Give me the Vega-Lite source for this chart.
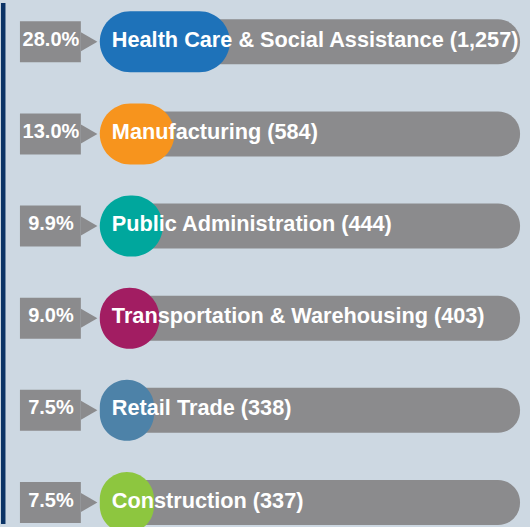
{
  "$schema": "https://vega.github.io/schema/vega-lite/v6.json",
  "width": 530,
  "height": 527,
  "autosize": {"type": "fit", "contains": "padding"},
  "padding": 0,
  "background": "#cdd8e2",
  "config": {"view": {"stroke": null}},
  "data": {
    "values": [
      {"industry": "Health Care & Social Assistance", "count": 1257, "share": 0.28, "label": "Health Care & Social Assistance (1,257)"},
      {"industry": "Manufacturing", "count": 584, "share": 0.13, "label": "Manufacturing (584)"},
      {"industry": "Public Administration", "count": 444, "share": 0.099, "label": "Public Administration (444)"},
      {"industry": "Transportation & Warehousing", "count": 403, "share": 0.09, "label": "Transportation & Warehousing (403)"},
      {"industry": "Retail Trade", "count": 338, "share": 0.075, "label": "Retail Trade (338)"},
      {"industry": "Construction", "count": 337, "share": 0.075, "label": "Construction (337)"}
    ]
  },
  "layer": [
    {
      "data": {"values": [{"edge": "left"}]},
      "mark": {"type": "rule", "color": "#0b3366", "strokeWidth": 4.5},
      "encoding": {
        "x": {"datum": -1493, "type": "quantitative", "scale": {"domain": [-1520, 4900], "nice": false, "zero": false}, "axis": null}
      }
    },
    {
      "mark": {"type": "bar", "color": "#8b8b8d", "size": 41},
      "encoding": {
        "y": {"field": "industry", "type": "nominal", "sort": null, "scale": {"type": "point", "padding": 0, "range": [38.8, 499.5]}, "axis": null},
        "x": {"datum": -1290, "type": "quantitative", "scale": {"domain": [-1520, 4900], "nice": false, "zero": false}, "axis": null},
        "x2": {"datum": -551}
      }
    },
    {
      "mark": {"type": "point", "shape": "triangle-right", "filled": true, "opacity": 1, "color": "#8b8b8d", "size": 361, "strokeWidth": 0},
      "encoding": {
        "y": {"field": "industry", "type": "nominal", "sort": null, "scale": {"type": "point", "padding": 0, "range": [38.8, 499.5]}, "axis": null},
        "x": {"datum": -450, "type": "quantitative", "scale": {"domain": [-1520, 4900], "nice": false, "zero": false}, "axis": null}
      }
    },
    {
      "mark": {"type": "bar", "color": "#8b8b8d", "size": 45, "cornerRadiusEnd": 22},
      "encoding": {
        "y": {"field": "industry", "type": "nominal", "sort": null, "scale": {"type": "point", "padding": 0, "range": [38.8, 499.5]}, "axis": null},
        "x": {"datum": -163, "type": "quantitative", "scale": {"domain": [-1520, 4900], "nice": false, "zero": false}, "axis": null},
        "x2": {"datum": 4779}
      }
    },
    {
      "mark": {"type": "bar", "size": 61, "cornerRadius": 30.5},
      "encoding": {
        "y": {"field": "industry", "type": "nominal", "sort": null, "scale": {"type": "point", "padding": 0, "range": [38.8, 499.5]}, "axis": null},
        "x": {"field": "count", "type": "quantitative", "scale": {"domain": [-1520, 4900], "nice": false, "zero": false}, "axis": null},
        "x2": {"datum": -321},
        "color": {
          "field": "industry",
          "type": "nominal",
          "legend": null,
          "scale": {
            "domain": ["Health Care & Social Assistance", "Manufacturing", "Public Administration", "Transportation & Warehousing", "Retail Trade", "Construction"],
            "range": ["#1e72b9", "#f7941d", "#00a79d", "#a21d62", "#4d82a8", "#8dc63f"]
          }
        }
      }
    },
    {
      "mark": {"type": "text", "align": "center", "baseline": "middle", "dy": -2, "font": "Liberation Sans", "fontSize": 20, "fontWeight": "bold", "color": "#ffffff"},
      "encoding": {
        "y": {"field": "industry", "type": "nominal", "sort": null, "scale": {"type": "point", "padding": 0, "range": [38.8, 499.5]}, "axis": null},
        "x": {"datum": -914, "type": "quantitative", "scale": {"domain": [-1520, 4900], "nice": false, "zero": false}, "axis": null},
        "text": {"field": "share", "type": "quantitative", "format": ".1%"}
      }
    },
    {
      "mark": {"type": "text", "align": "left", "baseline": "middle", "dy": -2, "font": "Liberation Sans", "fontSize": 21.7, "fontWeight": "bold", "color": "#ffffff"},
      "encoding": {
        "y": {"field": "industry", "type": "nominal", "sort": null, "scale": {"type": "point", "padding": 0, "range": [38.8, 499.5]}, "axis": null},
        "x": {"datum": -175, "type": "quantitative", "scale": {"domain": [-1520, 4900], "nice": false, "zero": false}, "axis": null},
        "text": {"field": "label", "type": "nominal"}
      }
    }
  ]
}
